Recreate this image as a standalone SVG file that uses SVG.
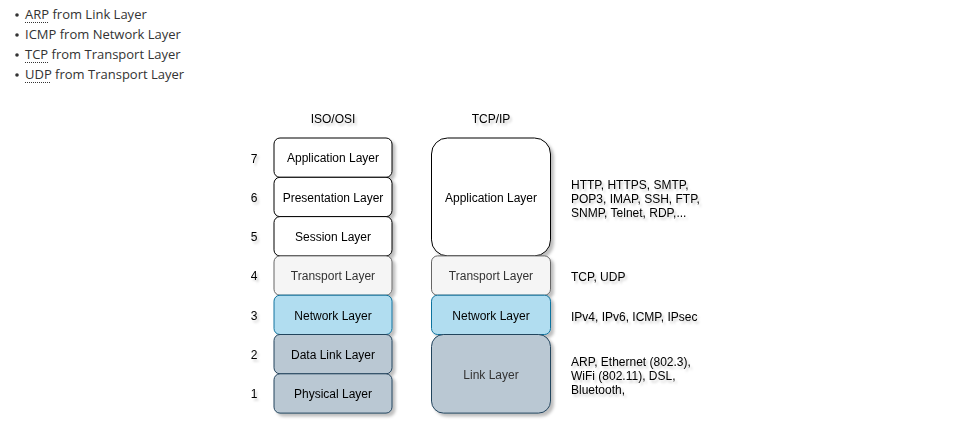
<svg xmlns="http://www.w3.org/2000/svg" width="963" height="431" viewBox="0 0 963 431">
<defs>
<filter id="sh" x="-10%" y="-10%" width="130%" height="140%">
<feDropShadow dx="3" dy="3" stdDeviation="1.6" flood-color="#000" flood-opacity="0.25"/>
</filter>
<filter id="tsh" x="-10%" y="-20%" width="130%" height="160%">
<feDropShadow dx="2" dy="2.5" stdDeviation="1.2" flood-color="#000" flood-opacity="0.2"/>
</filter>
</defs>
<style>
.li{font-family:"Open Sans","Noto Sans",sans-serif;font-size:13px;fill:#333}
.ul{stroke:#333;stroke-width:1;stroke-dasharray:1 1}
.bx{font-family:"Liberation Sans",Arial,sans-serif;font-size:12px;text-anchor:middle;dominant-baseline:central}
.t{font-family:"Liberation Sans",Arial,sans-serif;font-size:12px;fill:#000}
.w{fill:#fff;stroke:#000;stroke-width:1}
.tr{fill:#f5f5f5;stroke:#666;stroke-width:1}
.nw{fill:#b1ddf0;stroke:#10739e;stroke-width:1}
.lk{fill:#bac8d3;stroke:#23445d;stroke-width:1}
</style>
<rect width="963" height="431" fill="#fff"/>
<g id="list">
<circle cx="17" cy="15" r="1.8" fill="#333"/>
<circle cx="17" cy="35" r="1.8" fill="#333"/>
<circle cx="17" cy="55" r="1.8" fill="#333"/>
<circle cx="17" cy="75" r="1.8" fill="#333"/>
<text class="li" x="25" y="19">ARP from Link Layer</text>
<text class="li" x="25" y="39">ICMP from Network Layer</text>
<text class="li" x="25" y="59">TCP from Transport Layer</text>
<text class="li" x="25" y="79">UDP from Transport Layer</text>
<line class="ul" x1="25" y1="22.5" x2="49" y2="22.5"/>
<line class="ul" x1="25" y1="62.5" x2="48" y2="62.5"/>
<line class="ul" x1="25" y1="82.5" x2="51" y2="82.5"/>
</g>
<g filter="url(#tsh)">
<text class="bx" x="333" y="118.8">ISO/OSI</text>
<text class="bx" x="491" y="118.8">TCP/IP</text>
<text class="bx" x="254" y="158.5">7</text>
<text class="bx" x="254" y="197.8">6</text>
<text class="bx" x="254" y="237.1">5</text>
<text class="bx" x="254" y="276.4">4</text>
<text class="bx" x="254" y="315.7">3</text>
<text class="bx" x="254" y="355">2</text>
<text class="bx" x="254" y="394.3">1</text>
</g>
<g id="osi7" filter="url(#sh)"><rect class="w" x="274" y="138" width="118" height="39.3" rx="6"/><text class="bx" x="333" y="158.4">Application Layer</text></g>
<g id="osi6" filter="url(#sh)"><rect class="w" x="274" y="177.3" width="118" height="39.3" rx="6"/><text class="bx" x="333" y="197.7">Presentation Layer</text></g>
<g id="osi5" filter="url(#sh)"><rect class="w" x="274" y="216.6" width="118" height="39.3" rx="6"/><text class="bx" x="333" y="237">Session Layer</text></g>
<g id="osi4" filter="url(#sh)"><rect class="tr" x="274" y="255.9" width="118" height="39.3" rx="6"/><text class="bx" x="333" y="276.3" fill="#333">Transport Layer</text></g>
<g id="osi3" filter="url(#sh)"><rect class="nw" x="274" y="295.2" width="118" height="39.3" rx="6"/><text class="bx" x="333" y="315.6">Network Layer</text></g>
<g id="osi2" filter="url(#sh)"><rect class="lk" x="274" y="334.5" width="118" height="39.3" rx="6"/><text class="bx" x="333" y="354.9">Data Link Layer</text></g>
<g id="osi1" filter="url(#sh)"><rect class="lk" x="274" y="373.8" width="118" height="39.3" rx="6"/><text class="bx" x="333" y="394.2">Physical Layer</text></g>
<g id="tcp4" filter="url(#sh)"><rect class="w" x="431.5" y="138" width="119" height="117.9" rx="16"/><text class="bx" x="491" y="197.7">Application Layer</text></g>
<g id="tcp3" filter="url(#sh)"><rect class="tr" x="431.5" y="255.9" width="119" height="39.3" rx="6"/><text class="bx" x="491" y="276.3" fill="#333">Transport Layer</text></g>
<g id="tcp2" filter="url(#sh)"><rect class="nw" x="431.5" y="295.2" width="119" height="39.3" rx="6"/><text class="bx" x="491" y="315.6">Network Layer</text></g>
<g id="tcp1" filter="url(#sh)"><rect class="lk" x="431.5" y="334.5" width="119" height="78.6" rx="12"/><text class="bx" x="491" y="374.8" fill="#333">Link Layer</text></g>
<g id="protocols" filter="url(#tsh)">
<text class="t" x="571"><tspan x="571" y="188.5">HTTP, HTTPS, SMTP,</tspan><tspan x="571" y="202.5">POP3, IMAP, SSH, FTP,</tspan><tspan x="571" y="216.5">SNMP, Telnet, RDP,...</tspan></text>
<text class="t" x="571" y="280.5">TCP, UDP</text>
<text class="t" x="571" y="320.5">IPv4, IPv6, ICMP, IPsec</text>
<text class="t" x="571"><tspan x="571" y="365.5">ARP, Ethernet (802.3),</tspan><tspan x="571" y="379.5">WiFi (802.11), DSL,</tspan><tspan x="571" y="393.5">Bluetooth,</tspan></text>
</g>
<g id="connectors"></g>
</svg>
